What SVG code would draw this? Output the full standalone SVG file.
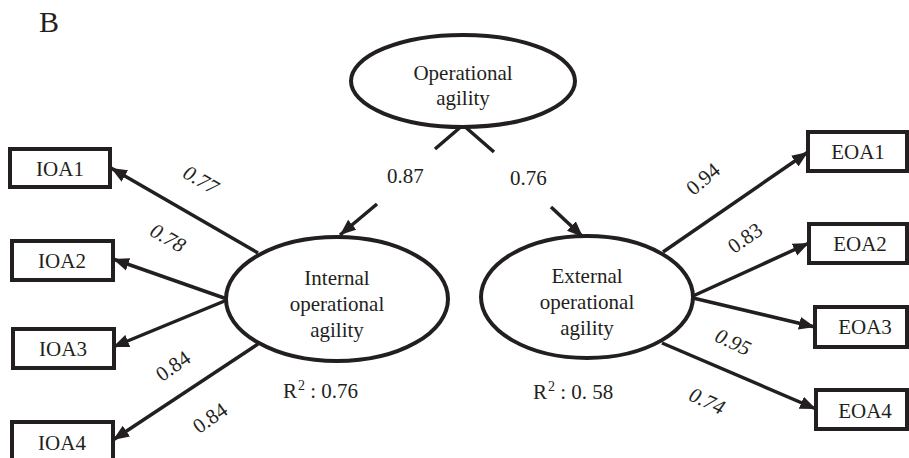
<svg xmlns="http://www.w3.org/2000/svg" width="909" height="458" viewBox="0 0 909 458">
<defs>
<style>
text{font-family:"Liberation Serif","Times New Roman",serif;fill:#231f20;font-size:21px}
.node{fill:#fff;stroke:#231f20;stroke-width:4}
.lv{fill:#fff;stroke:#231f20;stroke-width:4}
.c{stroke:#231f20;stroke-width:3.5;fill:none}
.a{marker-end:url(#ah)}
.m{text-anchor:middle}
.it{font-style:italic}
.sup{font-size:14px}
</style>
<marker id="ah" markerUnits="userSpaceOnUse" markerWidth="17" markerHeight="14" refX="16" refY="7" orient="auto">
<path d="M0,0.5 L16,7 L0,13.5 z" fill="#231f20"/>
</marker>
</defs>
<rect width="909" height="458" fill="#fff"/>
<text x="39" y="32" style="font-size:30px">B</text>

<g id="connectors">
<polyline class="c" points="435,149 463,125 494,152"/>
<line class="c a" x1="377" y1="204" x2="340" y2="235"/>
<line class="c a" x1="551" y1="207" x2="583" y2="237"/>
<line class="c a" x1="258" y1="253" x2="111" y2="168"/>
<line class="c a" x1="227" y1="299" x2="113" y2="259"/>
<line class="c a" x1="227" y1="300" x2="113" y2="347"/>
<line class="c a" x1="258" y1="344" x2="113" y2="440"/>
<line class="c a" x1="663" y1="252" x2="808" y2="152"/>
<line class="c a" x1="693" y1="296" x2="809" y2="243"/>
<line class="c a" x1="693" y1="298" x2="815" y2="327"/>
<line class="c a" x1="662" y1="343" x2="816" y2="409"/>
</g>

<g id="labels">
<text x="387" y="183">0.87</text>
<text x="510" y="185">0.76</text>
<text class="m it" transform="translate(201,180) rotate(30)" y="7">0.77</text>
<text class="m it" transform="translate(168,238) rotate(30)" y="7">0.78</text>
<text class="m" transform="translate(173,366) rotate(-35)" y="7">0.84</text>
<text class="m" transform="translate(210,418) rotate(-35)" y="7">0.84</text>
<text class="m" transform="translate(703,179) rotate(-40)" y="7">0.94</text>
<text class="m" transform="translate(745,238) rotate(-35)" y="7">0.83</text>
<text class="m it" transform="translate(733,342) rotate(25)" y="7">0.95</text>
<text class="m it" transform="translate(707,401) rotate(25)" y="7">0.74</text>
<text x="283" y="398">R<tspan class="sup" dx="1" dy="-8">2</tspan><tspan dy="8"> : 0.76</tspan></text>
<text x="533" y="399">R<tspan class="sup" dx="1" dy="-8">2</tspan><tspan dy="8"> : 0. 58</tspan></text>
</g>

<g id="operational-agility">
<ellipse class="lv" cx="463" cy="81" rx="112" ry="46"/>
<text class="m" x="463" y="80">Operational</text>
<text class="m" x="463" y="105">agility</text>
</g>
<g id="internal-operational-agility">
<ellipse class="lv" cx="337" cy="299" rx="111" ry="62"/>
<text class="m" x="337" y="285">Internal</text>
<text class="m" x="337" y="311">operational</text>
<text class="m" x="337" y="337">agility</text>
</g>
<g id="external-operational-agility">
<ellipse class="lv" cx="587" cy="297" rx="106" ry="61"/>
<text class="m" x="587" y="283">External</text>
<text class="m" x="587" y="309">operational</text>
<text class="m" x="587" y="335">agility</text>
</g>

<g id="IOA1"><rect class="node" x="10" y="149" width="100" height="38"/><text class="m" x="60" y="176">IOA1</text></g>
<g id="IOA2"><rect class="node" x="12" y="241" width="101" height="39"/><text class="m" x="62" y="268">IOA2</text></g>
<g id="IOA3"><rect class="node" x="13" y="329" width="101" height="39"/><text class="m" x="63" y="356">IOA3</text></g>
<g id="IOA4"><rect class="node" x="12" y="422" width="101" height="39"/><text class="m" x="62" y="450">IOA4</text></g>
<g id="EOA1"><rect class="node" x="808" y="132" width="99" height="39"/><text class="m" x="858" y="159">EOA1</text></g>
<g id="EOA2"><rect class="node" x="809" y="224" width="98" height="39"/><text class="m" x="860" y="251">EOA2</text></g>
<g id="EOA3"><rect class="node" x="815" y="307" width="92" height="40"/><text class="m" x="865" y="334">EOA3</text></g>
<g id="EOA4"><rect class="node" x="816" y="390" width="91" height="39"/><text class="m" x="865" y="418">EOA4</text></g>
</svg>
